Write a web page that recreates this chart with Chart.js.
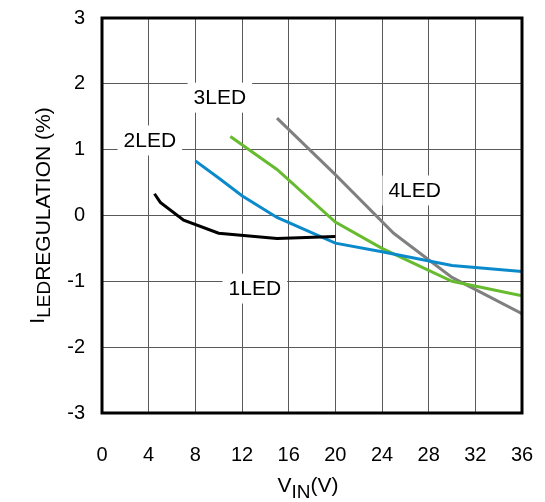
<!DOCTYPE html>
<html>
<head>
<meta charset="utf-8">
<script src="https://cdn.jsdelivr.net/npm/chart.js@4.4.0/dist/chart.umd.min.js"></script>
<style>
  html, body { margin: 0; padding: 0; background: #fff; }
  #wrap { width: 545px; height: 502px; }
</style>
</head>
<body>
<div id="wrap"><canvas id="myChart" width="545" height="502"></canvas></div>
<script>
// data: [Vin, regulation %]
const led1 = [[4.5, 0.33], [5, 0.2], [7, -0.07], [10, -0.27], [15, -0.35], [20, -0.32]];
const led2 = [[8, 0.83], [10, 0.57], [12, 0.3], [15, -0.03], [20, -0.42], [24, -0.55], [30, -0.76], [36, -0.85]];
const led3 = [[11, 1.2], [15, 0.7], [20, -0.1], [24, -0.5], [30, -1.0], [36, -1.22]];
const led4 = [[15, 1.48], [20, 0.62], [25, -0.27], [30, -0.94], [36, -1.49]];

const seriesNames = ['1LED', '2LED', '3LED', '4LED'];
const seriesColors = ['#000000', '#0a8acb', '#66bb2e', '#808080'];
// where each series name is written (data units)
const labelSpots = [[13.1, -1.11], [4.1, 1.14], [10.1, 1.79], [26.8, 0.38]];

const xTicks = [0, 4, 8, 12, 16, 20, 24, 28, 32, 36];
const yTicks = [-3, -2, -1, 0, 1, 2, 3];

const FONT = '"Liberation Sans", Arial, sans-serif';

function toPts(arr) {
    return arr.map(p => ({ x: p[0], y: p[1] }));
}

const allSeries = [led1, led2, led3, led4];

const chartData = {
    datasets: allSeries.map((s, i) => ({
        label: seriesNames[i],
        data: toPts(s),
        borderColor: seriesColors[i],
        borderWidth: 3,
        pointRadius: 0,
        tension: 0,
        fill: false
    }))
};

const extras = {
    id: 'extras',
    beforeDatasetsDraw(chart) {
        const c = chart.ctx;
        const xs = chart.scales.x, ys = chart.scales.y;
        c.save();
        c.font = '21px ' + FONT;
        c.textAlign = 'center';
        c.textBaseline = 'middle';
        labelSpots.forEach((p, i) => {
            const px = xs.getPixelForValue(p[0]);
            const py = ys.getPixelForValue(p[1]);
            const w = c.measureText(seriesNames[i]).width + 12;
            c.fillStyle = '#fff';
            c.fillRect(px - w / 2, py - 15, w, 30);
            c.fillStyle = '#000';
            c.fillText(seriesNames[i], px, py + 1);
        });
        c.restore();
    },
    afterDraw(chart) {
        const c = chart.ctx;
        const a = chart.chartArea;
        c.save();
        c.strokeStyle = '#000';
        c.lineWidth = 3;
        c.strokeRect(a.left, a.top, a.right - a.left, a.bottom - a.top);

        // x axis title: V_IN(V)
        c.fillStyle = '#000';
        c.textBaseline = 'alphabetic';
        c.textAlign = 'left';
        const big = '21px ' + FONT, small = '19px ' + FONT;
        c.font = big;
        const wV = c.measureText('V').width;
        const wVV = c.measureText('(V)').width;
        c.font = small;
        const wIN = c.measureText('IN').width;
        let x0 = (a.left + a.right) / 2 - 4 - (wV + wIN + wVV) / 2;
        const yb = 492;
        c.font = big;
        c.fillText('V', x0, yb);
        c.font = small;
        c.fillText('IN', x0 + wV, yb + 6);
        c.font = big;
        c.fillText('(V)', x0 + wV + wIN, yb);

        // y axis title: I_LED REGULATION (%)
        c.translate(50, (a.top + a.bottom) / 2);
        c.rotate(-Math.PI / 2);
        c.font = big;
        const wI = c.measureText('I').width;
        const wRest = c.measureText('REGULATION (%)').width;
        c.font = small;
        const wLED = c.measureText('LED').width;
        let s0 = -(wI + wLED + wRest) / 2;
        c.font = big;
        c.fillText('I', s0, -6);
        c.font = small;
        c.fillText('LED', s0 + wI, 0);
        c.font = big;
        c.fillText('REGULATION (%)', s0 + wI + wLED, 0);
        c.restore();
    }
};

const ctx = document.getElementById('myChart');

new Chart(ctx, {
    type: 'line',
    data: chartData,
    options: {
        responsive: false,
        animation: false,
        layout: { padding: { left: 0, top: 0, right: 23, bottom: 0 } },
        plugins: {
            legend: { display: false },
            tooltip: { enabled: false }
        },
        scales: {
            x: {
                type: 'linear',
                min: 0,
                max: 36,
                afterBuildTicks(scale) { scale.ticks = xTicks.map(v => ({ value: v })); },
                afterFit(scale) { scale.height = 89; },
                grid: { color: '#5a5a5a', lineWidth: 1, drawTicks: true, tickLength: 26, tickColor: 'rgba(0,0,0,0)' },
                border: { display: false },
                ticks: { color: '#000', font: { family: FONT, size: 20 }, padding: 4, maxRotation: 0 }
            },
            y: {
                type: 'linear',
                min: -3,
                max: 3,
                afterBuildTicks(scale) { scale.ticks = yTicks.map(v => ({ value: v })); },
                afterFit(scale) { scale.width = 102; },
                grid: { color: '#5a5a5a', lineWidth: 1, drawTicks: true, tickLength: 11, tickColor: 'rgba(0,0,0,0)' },
                border: { display: false },
                ticks: { color: '#000', font: { family: FONT, size: 20 }, padding: 6 }
            }
        }
    },
    plugins: [extras]
});
</script>
</body>
</html>
